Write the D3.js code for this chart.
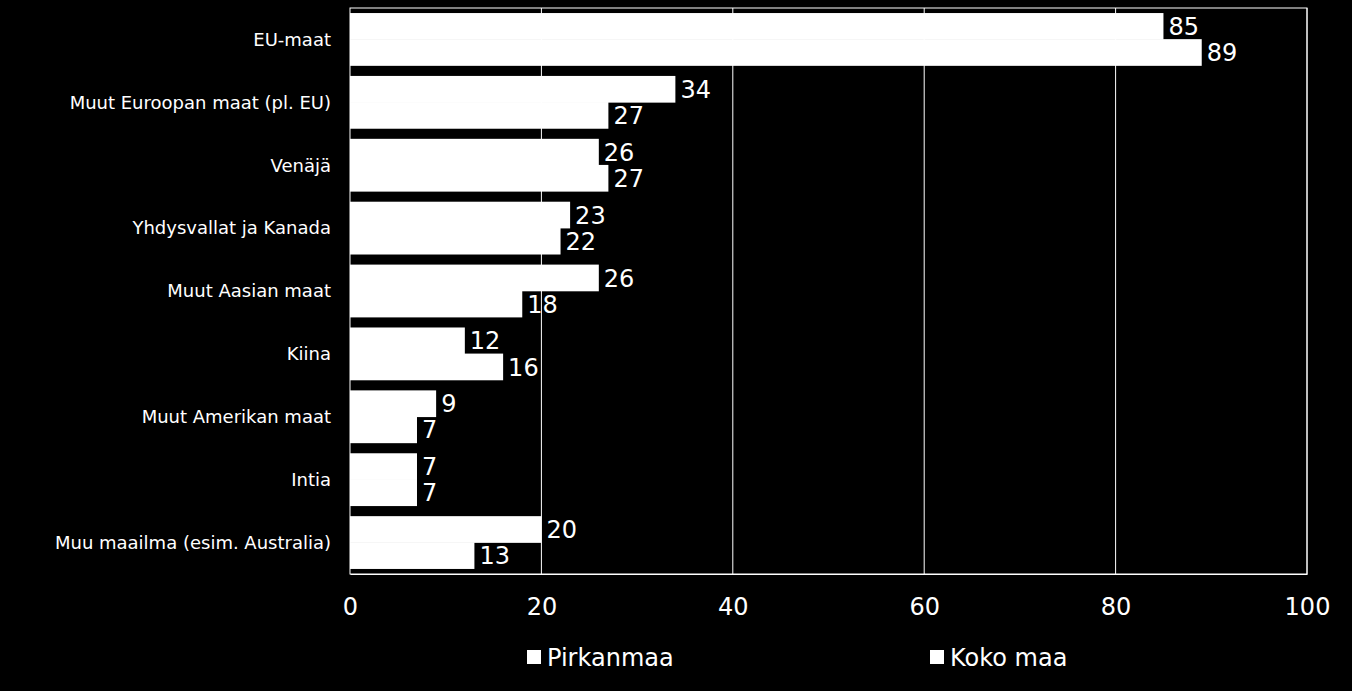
<!DOCTYPE html>
<html><head><meta charset="utf-8">
<script src="https://cdn.jsdelivr.net/npm/d3@7"></script>
<style>body{margin:0;background:#000}svg{display:block}</style>
</head><body><svg id="c" width="1352" height="691"></svg>
<script>
const categories=["EU-maat","Muut Euroopan maat (pl. EU)","Venäjä","Yhdysvallat ja Kanada","Muut Aasian maat","Kiina","Muut Amerikan maat","Intia","Muu maailma (esim. Australia)"];
const pirkanmaa=[85,34,26,23,26,12,9,7,20];
const kokoMaa=[89,27,27,22,18,16,7,7,13];
const seriesNames=["Pirkanmaa","Koko maa"];
const ticks=[0,20,40,60,80,100];

const svg=d3.select("#c");
const font="'DejaVu Sans', sans-serif";
svg.append("rect").attr("width",1352).attr("height",691).attr("fill","#000");
const L=350,R=1307,T=8,B=574;
const x=d3.scaleLinear().domain([0,100]).range([L,R]);
const y=d3.scaleBand().domain(categories).range([T,B]).paddingInner(0.17).paddingOuter(0.085);
const sub=d3.scaleBand().domain(seriesNames).range([0,y.bandwidth()]);

svg.append("g").selectAll("line").data(ticks.slice(1)).join("line")
 .attr("x1",d=>x(d)).attr("x2",d=>x(d)).attr("y1",T).attr("y2",B)
 .attr("stroke","#fff").attr("stroke-width",1);
svg.append("rect").attr("x",L).attr("y",T).attr("width",R-L).attr("height",B-T)
 .attr("fill","none").attr("stroke","#fff").attr("stroke-width",1);

[pirkanmaa,kokoMaa].forEach((vals,si)=>{
  const g=svg.append("g");
  g.selectAll("rect").data(categories).join("rect")
   .attr("x",x(0)).attr("y",(d)=>y(d)+sub(seriesNames[si])-0.3)
   .attr("width",(d,i)=>x(vals[i])-x(0)).attr("height",sub.bandwidth()+0.6).attr("fill","#fff");
  g.selectAll("text").data(categories).join("text")
   .attr("x",(d,i)=>x(vals[i])+5).attr("y",d=>y(d)+sub(seriesNames[si])+sub.bandwidth()/2)
   .attr("dy","0.36em").attr("fill","#fff").attr("font-family",font).attr("font-size",24)
   .text((d,i)=>vals[i]);
});

svg.append("g").selectAll("text").data(categories).join("text")
 .attr("x",331).attr("y",d=>y(d)+y.bandwidth()/2).attr("dy","0.35em")
 .attr("text-anchor","end").attr("fill","#fff").attr("font-family",font).attr("font-size",18).text(d=>d);

const ax=svg.append("g").attr("transform",`translate(0,${B})`)
 .call(d3.axisBottom(x).tickValues(ticks).tickSize(0).tickPadding(24));
ax.select(".domain").attr("stroke","#fff");
ax.selectAll("text").attr("fill","#fff").attr("font-family",font).attr("font-size",24);

const leg=[{x:527,t:seriesNames[0]},{x:930,t:seriesNames[1]}];
leg.forEach(l=>{
 svg.append("rect").attr("x",l.x).attr("y",650).attr("width",14).attr("height",14).attr("fill","#fff");
 svg.append("text").attr("x",l.x+20).attr("y",657).attr("dy","0.36em").attr("fill","#fff")
  .attr("font-family",font).attr("font-size",24).text(l.t);
});
</script></body></html>
